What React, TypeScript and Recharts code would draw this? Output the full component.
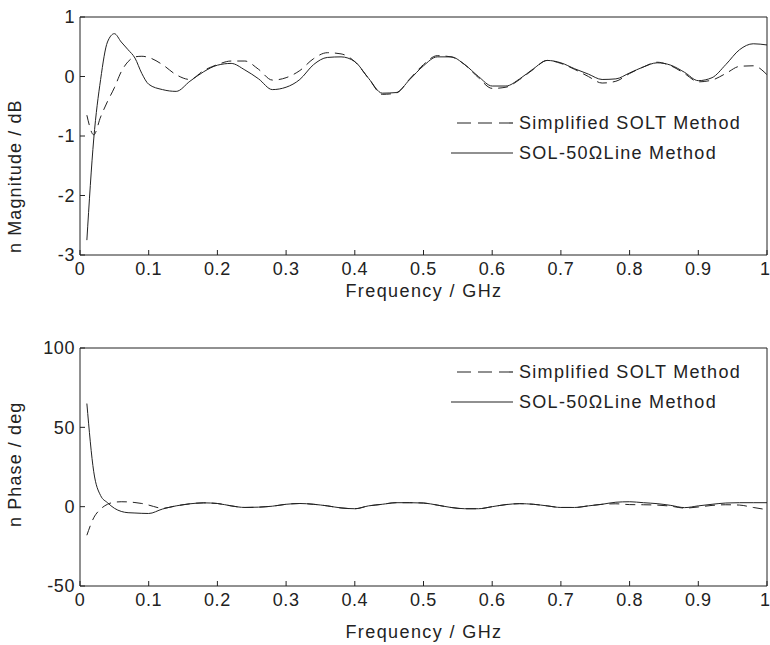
import React from "react";
import { LineChart, Line, XAxis, YAxis, Legend } from "recharts";

const freq = [
  0.01, 0.02, 0.03, 0.04, 0.05, 0.06, 0.07, 0.08, 0.09, 0.1,
  0.12, 0.14, 0.16, 0.18, 0.2, 0.22, 0.24, 0.26, 0.28, 0.3,
  0.32, 0.34, 0.36, 0.38, 0.4, 0.42, 0.44, 0.46, 0.48, 0.5,
  0.52, 0.54, 0.56, 0.58, 0.6, 0.62, 0.64, 0.66, 0.68, 0.7,
  0.72, 0.74, 0.76, 0.78, 0.8, 0.82, 0.84, 0.86, 0.88, 0.9,
  0.92, 0.94, 0.96, 0.98, 1.0,
];

// magnitude, dB
const magSolt = [
  -0.65, -0.98, -0.68, -0.42, -0.19, 0.08, 0.25, 0.33, 0.34, 0.32,
  0.2, 0.03, -0.05, 0.1, 0.2, 0.26, 0.26, 0.12, -0.06, -0.02,
  0.1, 0.3, 0.4, 0.38, 0.25, -0.03, -0.3, -0.28, -0.04, 0.2,
  0.35, 0.33, 0.2, -0.02, -0.2, -0.18, -0.05, 0.12, 0.27, 0.22,
  0.12, 0.0, -0.11, -0.08, 0.05, 0.16, 0.24, 0.18, 0.05, -0.09,
  -0.06, 0.05, 0.17, 0.18, 0.03,
];
const magSol = [
  -2.75, -1.05, -0.05, 0.58, 0.72, 0.58, 0.45, 0.31, 0.05, -0.13,
  -0.22, -0.25, -0.08, 0.08, 0.19, 0.22, 0.11, -0.04, -0.22, -0.18,
  -0.05, 0.2, 0.32, 0.33, 0.25, -0.03, -0.28, -0.27, -0.05, 0.18,
  0.33, 0.33, 0.2, 0.0, -0.16, -0.16, -0.04, 0.13, 0.27, 0.23,
  0.13, 0.04, -0.05, -0.04, 0.06, 0.16, 0.23, 0.19, 0.07, -0.07,
  -0.02, 0.2, 0.45, 0.55, 0.53,
];

// phase, deg
const phSolt = [
  -18, -7, -1.5, 1.5, 2.8, 3.1, 3, 2.6, 2, 1,
  -1, 0.5, 1.8, 2.4, 2, 0.5, -0.5, -0.3, 0.3, 1.5,
  2, 1.5, 0.5, -0.8, -1.3, 0.5, 1.5, 2.5, 2.5, 2.3,
  1, -0.5, -1.3, -1.3, 0, 1.3, 1.9, 1.5, 0.5, -0.5,
  -0.5, 0.5, 1.5, 1.8, 1.3, 1.2, 1.0, 0.3, -0.9, -0.2,
  0.8, 1.2, 1.0, -0.5, -1.9,
];
const phSol = [
  65, 22, 7, 2.5, -1, -3, -3.8, -4, -4.2, -4.3,
  -1.5, 0.5, 1.8, 2.4, 2, 0.5, -0.5, -0.3, 0.3, 1.5,
  2, 1.5, 0.5, -0.8, -1.3, 0.5, 1.5, 2.5, 2.5, 2.3,
  1, -0.5, -1.3, -1.3, 0, 1.3, 1.9, 1.5, 0.5, -0.5,
  -0.5, 0.5, 1.5, 2.8, 3.1, 2.5, 1.9, 0.8, -0.6, 0.5,
  1.5, 2.3, 2.5, 2.5, 2.5,
];

const xTicks = [0, 0.1, 0.2, 0.3, 0.4, 0.5, 0.6, 0.7, 0.8, 0.9, 1];
const magTicks = [-3, -2, -1, 0, 1];
const phTicks = [-50, 0, 50, 100];
const seriesNames = ["Simplified SOLT Method", "SOL-50\u03A9Line Method"];

const magData = freq.map((f, i) => ({ f, solt: magSolt[i], sol: magSol[i] }));
const phData = freq.map((f, i) => ({ f, solt: phSolt[i], sol: phSol[i] }));

const ink = "#222";
const font = "'Liberation Sans', Arial, sans-serif";
const tickStyle = { fontSize: 18, fill: "#222", fontFamily: font, letterSpacing: 0.6 };

const legendBox = () => (
  <div style={{ fontFamily: font, fontSize: 18, color: "#222", letterSpacing: 1.3 }}>
    {seriesNames.map((name, i) => (
      <div key={name} style={{ display: "flex", alignItems: "center", height: 30 }}>
        <svg width={68} height={10}>
          <line
            x1={i === 0 ? 6 : 0}
            x2={62}
            y1={5}
            y2={5}
            stroke={ink}
            strokeWidth={1.2}
            strokeDasharray={i === 0 ? "14 7" : undefined}
          />
        </svg>
        <span>{name}</span>
      </div>
    ))}
  </div>
);

function Panel(props: {
  data: any[];
  yTicks: number[];
  height: number;
  top: number;
  yTitle: string;
  yTitleY: number;
  xTitleY: number;
  legendTop: number;
}) {
  const { data, yTicks, height, top, yTitle, yTitleY, xTitleY, legendTop } = props;
  const yDomain = [yTicks[0], yTicks[yTicks.length - 1]];
  return (
    <LineChart
      width={770}
      height={height}
      data={data}
      margin={{ top: top - 1, right: 2, bottom: 0, left: 0 }}
    >
      <XAxis
        dataKey="f"
        type="number"
        domain={[0, 1]}
        ticks={xTicks}
        allowDataOverflow
        height={height - top - 238}
        tickSize={-5}
        tickMargin={12}
        stroke={ink}
        tick={tickStyle}
        label={{
          content: () => (
            <text x={424} y={xTitleY} textAnchor="middle" fontFamily={font} fontSize={18} fill="#222" letterSpacing={1.4}>
              Frequency / GHz
            </text>
          ),
        }}
      />
      <XAxis
        xAxisId="top"
        dataKey="f"
        orientation="top"
        type="number"
        domain={[0, 1]}
        ticks={xTicks}
        allowDataOverflow
        height={1}
        tickSize={-5}
        tick={false}
        stroke={ink}
      />
      <YAxis
        type="number"
        domain={yDomain}
        ticks={yTicks}
        allowDataOverflow
        width={80}
        tickSize={-5}
        tickMargin={10}
        stroke={ink}
        tick={tickStyle}
        label={{
          content: () => (
            <text
              transform={`translate(21,${yTitleY}) rotate(-90)`}
              textAnchor="start"
              fontFamily={font}
              fontSize={18}
              fill="#222"
              letterSpacing={1.1}
            >
              {yTitle}
            </text>
          ),
        }}
      />
      <YAxis
        yAxisId="right"
        orientation="right"
        type="number"
        domain={yDomain}
        ticks={yTicks}
        allowDataOverflow
        width={1}
        tickSize={-5}
        tick={false}
        stroke={ink}
      />
      <Legend
        layout="vertical"
        align="center"
        verticalAlign="middle"
        content={legendBox}
        wrapperStyle={{ left: 451, top: legendTop, width: 316 }}
      />
      <Line
        dataKey="solt"
        name={seriesNames[0]}
        xAxisId="top"
        yAxisId="right"
        type="monotone"
        stroke={ink}
        strokeWidth={1}
        strokeDasharray="10 6"
        dot={false}
        isAnimationActive={false}
      />
      <Line
        dataKey="sol"
        name={seriesNames[1]}
        type="monotone"
        stroke={ink}
        strokeWidth={1}
        dot={false}
        isAnimationActive={false}
      />
    </LineChart>
  );
}

export default function App() {
  return (
    <div style={{ position: "absolute", left: 0, top: 0, width: 770, height: 645, background: "#fff" }}>
      <Panel
        data={magData}
        yTicks={magTicks}
        height={320}
        top={17}
        yTitle="n Magnitude / dB"
        yTitleY={253}
        xTitleY={297}
        legendTop={108}
      />
      <Panel
        data={phData}
        yTicks={phTicks}
        height={325}
        top={28}
        yTitle="n Phase / deg"
        yTitleY={207}
        xTitleY={318}
        legendTop={37}
      />
    </div>
  );
}
